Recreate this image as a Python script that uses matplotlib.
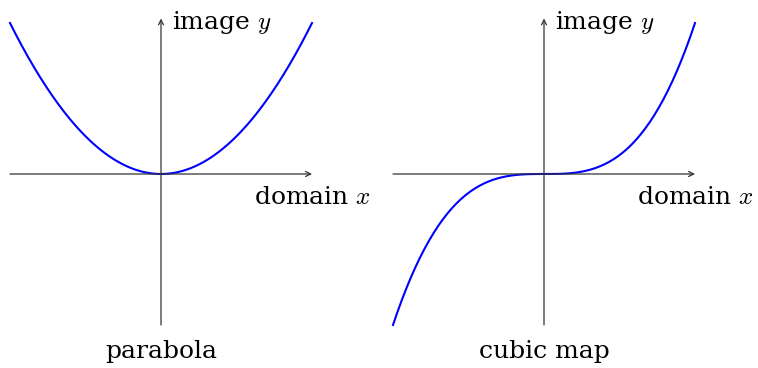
import numpy as np
import matplotlib
matplotlib.use("Agg")
import matplotlib.pyplot as plt

plt.rcParams["font.family"] = "DejaVu Serif"
plt.rcParams["mathtext.fontset"] = "cm"

# the two maps, drawn over domain [-1, 1]
domain = np.linspace(-1, 1, 201)
titles = ["parabola", "cubic map"]
powers = [2, 3]
x_label = "domain $x$"
y_label = "image $y$"

W, H = 758, 368
unit = 151.0
centers = [161, 544]      # px position of each y axis
axis_row = 174            # px from top of the x axis
splits = [0, 379, 758]

fig = plt.figure(figsize=(W / 100, H / 100), dpi=100)

for i in range(2):
    left, right = splits[i], splits[i + 1]
    ax = fig.add_axes([left / W, 0, (right - left) / W, 1])
    ax.set_xlim(-(centers[i] - left) / unit, (right - centers[i]) / unit)
    ax.set_ylim(-(H - axis_row) / unit, axis_row / unit)
    ax.axis("off")

    arrow = dict(arrowstyle="->", color="#333333", lw=0.9,
                 shrinkA=0, shrinkB=0, mutation_scale=9)
    ax.annotate("", xy=(1.0, 0), xytext=(-1.0, 0), arrowprops=arrow)
    ax.annotate("", xy=(0, 1.03), xytext=(0, -1.0), arrowprops=arrow)

    ax.plot(domain, domain ** powers[i], color="blue", lw=1.5)

    ax.text(0.07, 1.0, y_label, ha="left", va="center", fontsize=18)
    ax.text(1.0, -0.08, x_label, ha="center", va="top", fontsize=18)
    ax.text(0, -1.1, titles[i], ha="center", va="top", fontsize=18)

fig.savefig("out.png", dpi=100)
